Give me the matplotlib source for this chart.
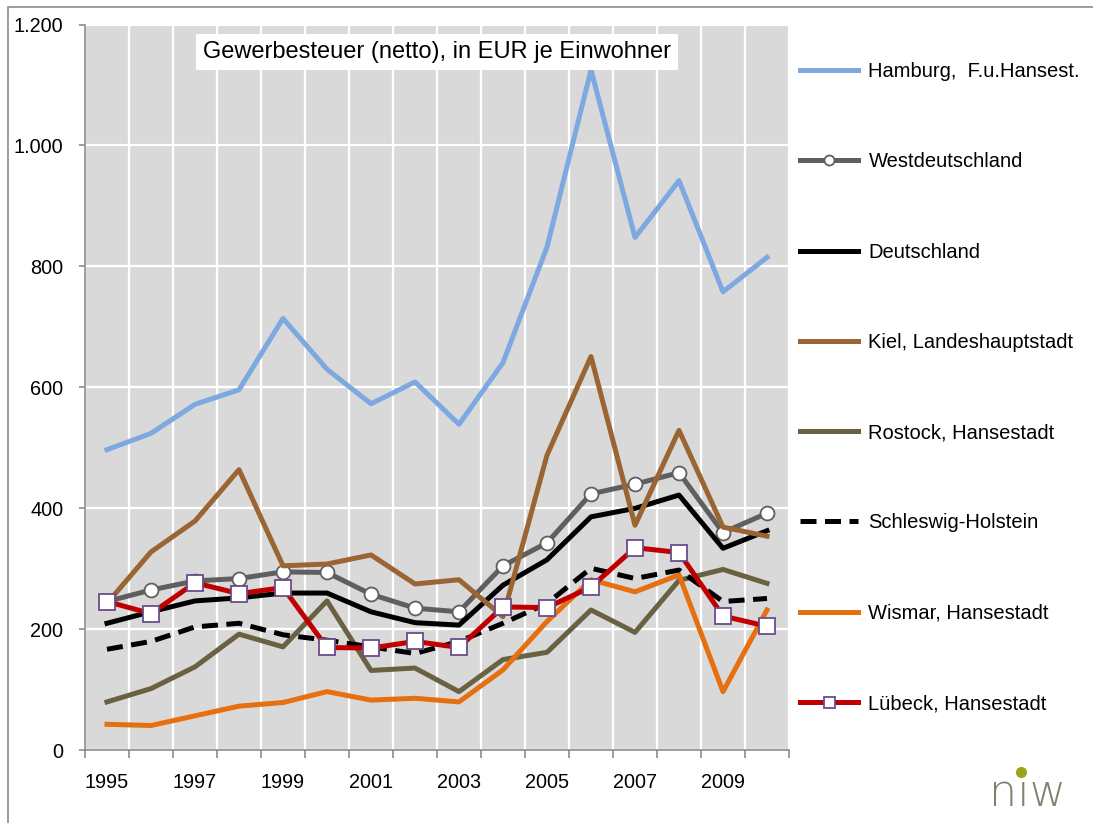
import numpy as np
import matplotlib
matplotlib.use("Agg")
import matplotlib.pyplot as plt
from matplotlib.patches import Rectangle
from matplotlib.lines import Line2D
from matplotlib.ticker import FixedLocator, FuncFormatter

plt.rcParams['font.family'] = ['Liberation Sans', 'DejaVu Sans']

years = list(range(1995, 2011))

hamburg = [497, 524, 572, 596, 714, 630, 573, 609, 539, 641, 832, 1125, 848, 942, 758, 815]
westdeutschland = [246, 265, 280, 284, 295, 294, 258, 235, 229, 305, 343, 424, 440, 459, 360, 392]
deutschland = [210, 229, 247, 252, 260, 260, 229, 211, 207, 273, 315, 386, 400, 422, 334, 363]
kiel = [243, 328, 379, 464, 305, 308, 323, 275, 282, 221, 488, 651, 372, 529, 369, 354]
rostock = [80, 102, 138, 192, 171, 247, 132, 136, 97, 150, 162, 232, 195, 281, 299, 276]
schleswig_holstein = [167, 180, 204, 210, 191, 182, 171, 160, 180, 210, 243, 301, 284, 298, 246, 251]
wismar = [43, 41, 57, 73, 79, 97, 83, 86, 80, 133, 213, 282, 262, 290, 97, 232]
luebeck = [246, 226, 277, 259, 269, 170, 169, 180, 170, 237, 236, 270, 335, 327, 222, 205]

series_names = ["Hamburg,  F.u.Hansest.", "Westdeutschland", "Deutschland",
                "Kiel, Landeshauptstadt", "Rostock, Hansestadt", "Schleswig-Holstein",
                "Wismar, Hansestadt", "Lübeck, Hansestadt"]

fig = plt.figure(figsize=(10.93, 8.23), dpi=100)
ax = fig.add_axes([85 / 1093, 1 - 750.3 / 823, (789 - 85) / 1093, (750.3 - 24.5) / 823])
ax.set_facecolor("#D9D9D9")

# outer chart border
fig.patches.append(Rectangle((8 / 1093, -0.1), 1.2, 1 - 7 / 823 + 0.1, transform=fig.transFigure,
                             fill=False, edgecolor="#8C8C8C", linewidth=1.2))

x = np.arange(len(years))
lw = 3.6
ax.plot(x, hamburg, color="#7EA9E0", lw=lw, label=series_names[0])
ax.plot(x, westdeutschland, color="#5F5F5F", lw=lw, marker="o", markersize=10,
        markerfacecolor="white", markeredgecolor="#5F5F5F", markeredgewidth=1.3, label=series_names[1])
ax.plot(x, deutschland, color="black", lw=lw, label=series_names[2])
ax.plot(x, kiel, color="#9A6532", lw=lw, label=series_names[3])
ax.plot(x, rostock, color="#696142", lw=lw, label=series_names[4])
ax.plot(x, schleswig_holstein, color="black", lw=lw, linestyle=(0, (3.2, 1.7)), label=series_names[5])
ax.plot(x, wismar, color="#E66F10", lw=lw, label=series_names[6])
ax.plot(x, luebeck, color="#C00000", lw=lw, marker="s", markersize=11,
        markerfacecolor="white", markeredgecolor="#6A4C8A", markeredgewidth=1.3, label=series_names[7])

ax.set_xlim(-0.5, len(years) - 0.5)
ax.set_ylim(0, 1200)

# major ticks at category boundaries (with gridlines), labels on every other year
ax.xaxis.set_major_locator(FixedLocator(np.arange(-0.5, len(years), 1.0)))
ax.xaxis.set_major_formatter(FuncFormatter(lambda v, p: ""))
ax.xaxis.set_minor_locator(FixedLocator(x[::2]))
ax.xaxis.set_minor_formatter(FuncFormatter(lambda v, p: str(years[int(round(v))])))
ax.tick_params(axis="x", which="major", direction="out", length=5.8, width=1.2, color="#8C8C8C")
ax.tick_params(axis="x", which="minor", length=0, pad=16, labelsize=14.3)

ax.set_yticks(np.arange(0, 1201, 200))
ax.yaxis.set_major_formatter(FuncFormatter(lambda v, p: f"{int(v):,}".replace(",", ".")))
ax.tick_params(axis="y", direction="out", length=4.5, width=1.2, color="#8C8C8C", pad=11, labelsize=14.3)

ax.grid(True, which="major", color="white", linewidth=1.6)
ax.set_axisbelow(True)
for side in ["top", "right"]:
    ax.spines[side].set_visible(False)
for side in ["left", "bottom"]:
    ax.spines[side].set_color("#8C8C8C")
    ax.spines[side].set_linewidth(1.2)

ax.text(0.5, 0.962, "Gewerbesteuer (netto), in EUR je Einwohner", transform=ax.transAxes,
        ha="center", va="center", fontsize=17,
        bbox=dict(boxstyle="square,pad=0.28", facecolor="white", edgecolor="none"))

fig.legend(loc="upper left", bbox_to_anchor=(800 / 1093, 1 - 62 / 823), frameon=False,
           fontsize=14.5, handlelength=2.9, handletextpad=0.5, labelspacing=3.54,
           markerscale=0.72, borderpad=0, borderaxespad=0)

# logo
fig.text(1027 / 1093, 1 - 793 / 823, "nıw", ha="center", va="center", fontsize=32,
         color="#80806F", family="DejaVu Sans", fontweight="light")
fig.add_artist(Line2D([1021 / 1093], [1 - 772 / 823], transform=fig.transFigure, marker="o",
                      markersize=7, color="#9AA51C", linestyle="none"))

fig.savefig("out.png", dpi=100)
